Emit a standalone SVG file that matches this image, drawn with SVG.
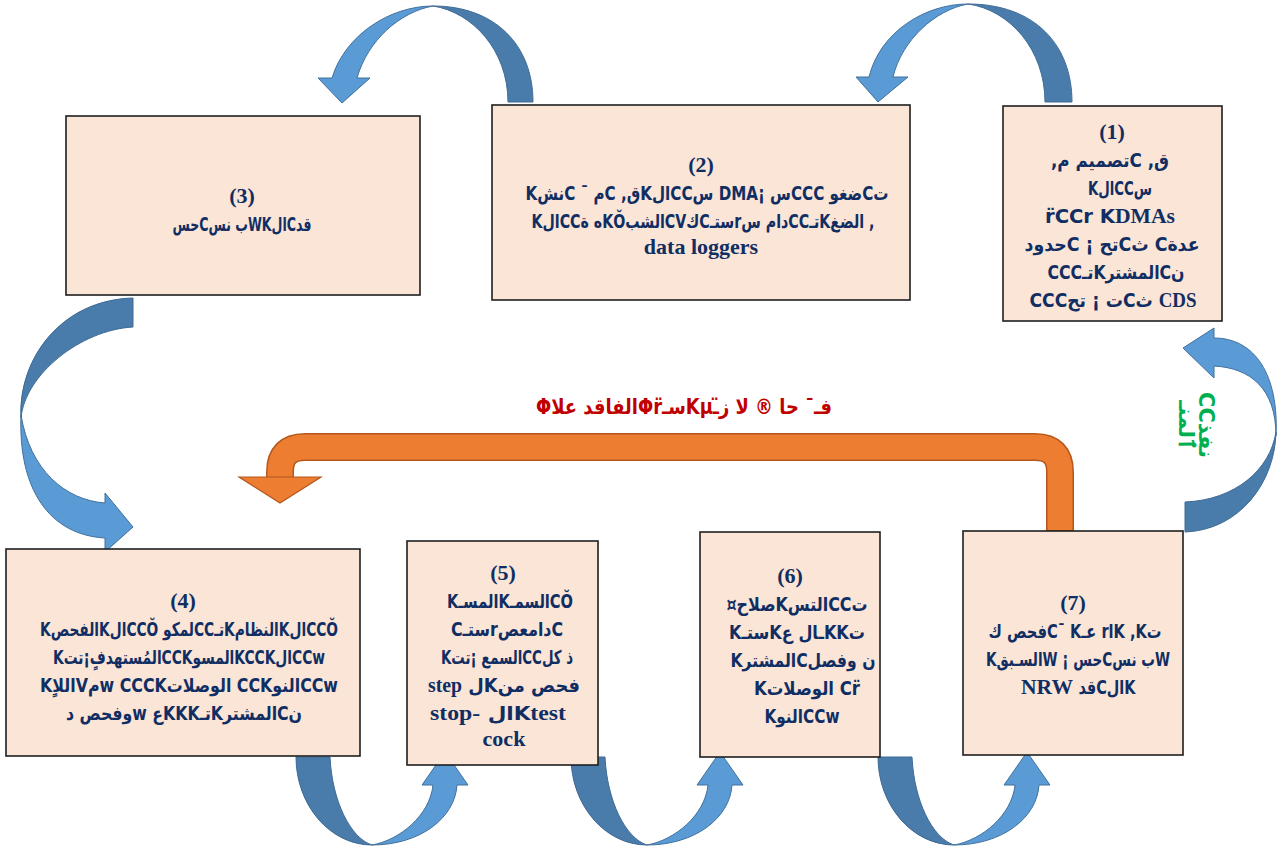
<svg xmlns="http://www.w3.org/2000/svg" width="1281" height="857" viewBox="0 0 1281 857">
  <style>
    .box { fill: #FBE5D6; stroke: #1E1E1E; stroke-width: 1.6; }
    .t { font-family: "DejaVu Sans", "Liberation Sans", sans-serif; font-weight: bold; font-size: 19px; fill: #102E63; text-anchor: middle; }
    .n { font-family: "Liberation Serif", "DejaVu Serif", serif; font-weight: bold; font-size: 22px; fill: #102E63; text-anchor: middle; }
    .ls { font-family: "Liberation Serif", "DejaVu Serif", serif; font-weight: bold; font-size: 21px; fill: #102E63; text-anchor: middle; }
    .lat { font-family: "Liberation Serif", "DejaVu Serif", serif; font-size: 21px; }
    .dark { fill: #4A7CAB; stroke: #3E6A94; stroke-width: 1; }
    .light { fill: #5B9BD5; stroke: #41719C; stroke-width: 1; }
    .red { font-family: "DejaVu Sans", sans-serif; font-weight: bold; font-size: 21px; fill: #C00000; text-anchor: middle; }
    .green { font-family: "DejaVu Sans", sans-serif; font-weight: bold; font-size: 21px; fill: #00B050; text-anchor: middle; }
  </style>
  <defs>
    <g id="down-up-arrow">
      <path class="dark" d="M296,757 L330,757 C332,800 350,838 372,845 C330,845 296,805 296,757 Z"/>
      <path class="light" d="M372,845 C420,845 455,818 457,785 L468,785 L445,752 L422,785 L433,785 C430,815 400,840 372,845 Z"/>
    </g>
  </defs>

  <rect width="1281" height="857" fill="#FFFFFF"/>

  <g id="connectors">
    <!-- step 2 to step 3 -->
    <path class="dark" d="M508,102 L533,102 C533,45 495,6 433,6 C472,12 508,50 508,102 Z"/>
    <path class="light" d="M433,6 C390,6 345,35 332,78 L318,78 L342,103 L370,78 L357,78 C368,40 400,12 433,6 Z"/>
    <!-- step 1 to step 2 -->
    <path class="dark" d="M1045,102 L1072,102 C1072,45 1035,4 968,4 C1010,10 1045,50 1045,102 Z"/>
    <path class="light" d="M968,4 C925,4 880,32 869,77 L856,77 L878,102 L908,77 L893,77 C902,40 935,10 968,4 Z"/>
    <!-- step 3 to step 4 -->
    <path class="dark" d="M133,298 L133,327 C80,330 25,375 21,418 C18,360 60,300 133,298 Z"/>
    <path class="light" d="M21,415 C30,470 65,500 105,503 L105,493 L133,527 L105,552 L105,538 C50,535 18,490 21,415 Z"/>
    <!-- bottom row: step 4 to 5, 5 to 6, 6 to 7 -->
    <use href="#down-up-arrow"/>
    <use href="#down-up-arrow" transform="translate(275,0)"/>
    <use href="#down-up-arrow" transform="translate(582,0)"/>
    <!-- step 7 back to step 1 -->
    <path class="dark" d="M1185,502 L1185,532 C1240,530 1275,482 1276,432 C1270,470 1235,500 1185,502 Z"/>
    <path class="light" d="M1276,436 C1276,388 1250,368 1214,366 L1214,378 L1183,348 L1214,328 L1214,338 C1255,338 1279,375 1276,436 Z"/>
    <!-- feedback loop from step 7 to step 4 -->
    <path d="M1060,531 V472 Q1060,447 1035,447 H305 Q280,447 280,472 V478" fill="none" stroke="#B5581E" stroke-width="28"/>
    <path d="M1060,530 V472 Q1060,447 1035,447 H305 Q280,447 280,472 V479" fill="none" stroke="#ED7D31" stroke-width="25"/>
    <path d="M239,477 L321,477 L280,503 Z" fill="#ED7D31" stroke="#B5581E" stroke-width="1.2"/>
  </g>

  <text class="red" x="684" y="414" direction="rtl" unicode-bidi="embed" textLength="296" lengthAdjust="spacingAndGlyphs">فـ¯ حا ® لا ز̈ـKµسـΦr̈الفاقد علاΦ</text>
  <g class="green">
    <text transform="translate(1179,425) rotate(90)">ٱلمنـ</text>
    <text transform="translate(1199,425) rotate(90)">CCنفذ</text>
  </g>

  <g id="step1">
    <rect class="box" x="1003" y="106" width="219" height="215"/>
    <text class="n" x="1112" y="139">(1)</text>
    <text class="t" x="1110" y="167" textLength="118" lengthAdjust="spacingAndGlyphs">,تصميم مC ,ق</text>
    <text class="t" x="1120" y="195" textLength="64" lengthAdjust="spacingAndGlyphs">&#x200F;KالCCس</text>
    <text class="t" x="1110" y="223" textLength="130" lengthAdjust="spacingAndGlyphs">r̈CCr K<tspan class="lat">DMAs</tspan></text>
    <text class="t" x="1112" y="251" textLength="175" lengthAdjust="spacingAndGlyphs">&#x200E;حدودC ¡ تحCث Cعدة</text>
    <text class="t" x="1116" y="279" textLength="137" lengthAdjust="spacingAndGlyphs">CCCتـKالمشترCن</text>
    <text class="t" x="1113" y="307" textLength="167" lengthAdjust="spacingAndGlyphs">CCCت ¡ تحCث <tspan class="lat">CDS</tspan></text>
  </g>

  <g id="step2">
    <rect class="box" x="492" y="105" width="418" height="195"/>
    <text class="n" x="701" y="172">(2)</text>
    <text class="t" x="707" y="200" textLength="363" lengthAdjust="spacingAndGlyphs">&#x200F;KنشC ¯ مC ,قKالCCس DMA¡ سCCC ضغوCت</text>
    <text class="t" x="703" y="228" textLength="343" lengthAdjust="spacingAndGlyphs">&#x200F;KالCCه ةKŎالشبCVكCستـrدام سCCتـKالضغ ,</text>
    <text class="n" x="701" y="254">data loggers</text>
  </g>

  <g id="step3">
    <rect class="box" x="66" y="116" width="354" height="179"/>
    <text class="n" x="242" y="203">(3)</text>
    <text class="t" x="242" y="231" textLength="139" lengthAdjust="spacingAndGlyphs">حسCب نسWKالCقد</text>
  </g>

  <g id="step4">
    <rect class="box" x="6" y="549" width="354" height="207"/>
    <text class="n" x="183" y="608">(4)</text>
    <text class="t" x="189" y="636" textLength="298" lengthAdjust="spacingAndGlyphs">&#x200F;KالفحصKالCCŎ لمكوCCتـKالنظامKالCCŎ</text>
    <text class="t" x="189" y="664" textLength="272" lengthAdjust="spacingAndGlyphs">&#x200F;Kالمُستهدفٍ¡تتCCKالمسوKCCKالCCw</text>
    <text class="t" x="189" y="692" textLength="298" lengthAdjust="spacingAndGlyphs">&#x200F;KاللاٍVمw CCCKالوصلات CCKالنوCCw</text>
    <text class="t" x="184" y="720" textLength="236" lengthAdjust="spacingAndGlyphs">وفحص دw عKKKتـKالمشترCن</text>
  </g>

  <g id="step5">
    <rect class="box" x="407" y="541" width="191" height="224"/>
    <text class="n" x="503" y="580">(5)</text>
    <text class="t" x="510" y="608" textLength="126" lengthAdjust="spacingAndGlyphs">&#x200F;KالمسـKالسمـCŎ</text>
    <text class="t" x="507" y="636" textLength="112" lengthAdjust="spacingAndGlyphs">CستـrدامعصC</text>
    <text class="t" x="507" y="664" textLength="132" lengthAdjust="spacingAndGlyphs">&#x200F;Kالسمع ¡تتCCذ كل</text>
    <text class="t" x="504" y="692" textLength="152" lengthAdjust="spacingAndGlyphs"><tspan class="lat">step</tspan>  لKفحص من</text>
    <text class="t" x="498" y="720" textLength="136" lengthAdjust="spacingAndGlyphs"><tspan class="lat">stop-</tspan>  الK<tspan class="lat">test</tspan></text>
    <text class="n" x="504" y="746">cock</text>
  </g>

  <g id="step6">
    <rect class="box" x="700" y="532" width="180" height="225"/>
    <text class="n" x="790" y="583">(6)</text>
    <text class="t" x="797" y="611" textLength="141" lengthAdjust="spacingAndGlyphs">¤صلاحKالتسCCت</text>
    <text class="t" x="797" y="639" textLength="136" lengthAdjust="spacingAndGlyphs">&#x200F;KستـKـال عKKت</text>
    <text class="t" x="803" y="667" textLength="145" lengthAdjust="spacingAndGlyphs">&#x200F;KالمشترCن وفصل</text>
    <text class="t" x="807" y="695" textLength="106" lengthAdjust="spacingAndGlyphs">&#x200F;Kالوصلات Cr̈</text>
    <text class="t" x="802" y="723" textLength="75" lengthAdjust="spacingAndGlyphs">&#x200F;KالنوCCw</text>
  </g>

  <g id="step7">
    <rect class="box" x="963" y="531" width="220" height="224"/>
    <text class="n" x="1073" y="610">(7)</text>
    <text class="t" x="1075" y="638" textLength="173" lengthAdjust="spacingAndGlyphs">فحص كC¯ Kعـ rاK ,Kت</text>
    <text class="t" x="1078" y="666" textLength="184" lengthAdjust="spacingAndGlyphs">&#x200F;KالسـبقW ¡ حسCب نسW</text>
    <text class="ls" x="1047" y="694" textLength="52" lengthAdjust="spacingAndGlyphs">NRW</text>
    <text class="t" x="1107" y="694" textLength="57" lengthAdjust="spacingAndGlyphs">قدCالK</text>
  </g>
</svg>
